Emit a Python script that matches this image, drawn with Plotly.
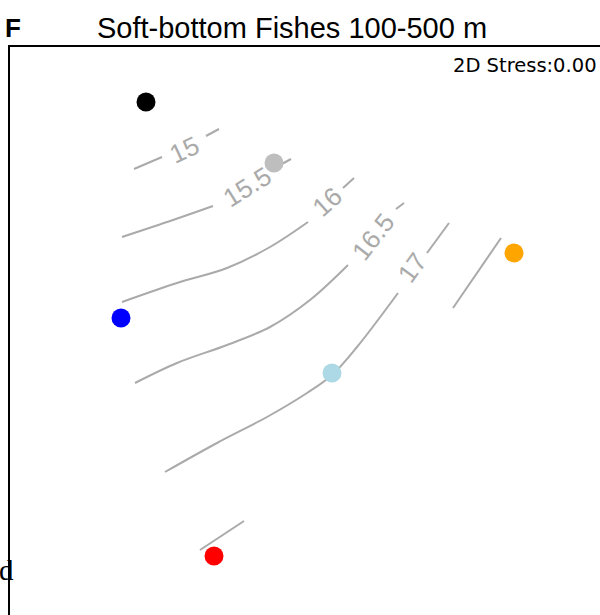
import plotly.graph_objects as go

# NMDS ordination points (arbitrary units)
group_names = ["g1", "g2", "g3", "g4", "g5", "g6"]
point_x = [136, 264, 111, 322, 504, 204]
point_y = [513, 452, 297, 242, 362, 59]
point_colors = ["black", "#bebebe", "blue", "#add8e6", "orange", "red"]

# Contour (surface overlay) line segments
contour_segments = [
    ([124, 152], [446, 458]),
    ([196, 209], [479, 486]),
    ([112, 163, 203], [378, 395, 409]),
    ([270, 281], [450, 456]),
    ([112, 167, 217, 260, 298], [313, 332, 347, 368, 393]),
    ([333, 344], [427, 437]),
    ([125, 167, 217, 260, 300, 338], [232, 252, 270, 288, 315, 350]),
    ([386, 394], [406, 412]),
    ([155, 207, 257, 297, 322, 347, 388], [143, 172, 198, 222, 240, 268, 322]),
    ([417, 439], [362, 392]),
    ([443, 491], [307, 377]),
    ([190, 234], [65, 94]),
]

# Contour labels
contour_labels = ["15", "15.5", "16", "16.5", "17"]
label_x = [174, 237, 317, 363, 402]
label_y = [465, 428, 413, 378, 347]
label_angle = [-25, -32, -42, -52, -54]

fig = go.Figure()
for xs, ys in contour_segments:
    fig.add_trace(go.Scatter(x=xs, y=ys, mode="lines",
                             line=dict(color="#aaaaaa", width=2, shape="spline", smoothing=1),
                             hoverinfo="skip", showlegend=False))

fig.add_trace(go.Scatter(x=point_x, y=point_y, mode="markers", text=group_names,
                         marker=dict(color=point_colors, size=19, line=dict(width=0)),
                         showlegend=False))

for t, x, y, a in zip(contour_labels, label_x, label_y, label_angle):
    fig.add_annotation(x=x, y=y, text=t, textangle=a, showarrow=False,
                       font=dict(family="Liberation Sans, Arial", size=26, color="#aaaaaa"))

fig.add_annotation(xref="paper", yref="paper", x=1.0, y=1.0, xanchor="right", yanchor="top",
                   xshift=-1, yshift=-5, text="2D Stress:0.00", showarrow=False,
                   font=dict(family="DejaVu Sans", size=19.5, color="black"))

fig.add_annotation(xref="paper", yref="paper", x=0.5, y=1.0, xanchor="center", yanchor="bottom",
                   xshift=-13, yshift=1, text="Soft-bottom Fishes 100-500 m", showarrow=False,
                   font=dict(family="Liberation Sans, Arial", size=29, color="black"))

fig.add_annotation(xref="paper", yref="paper", x=0, y=1.0, xanchor="left", yanchor="bottom",
                   xshift=-7, yshift=2, text="<b>F</b>", showarrow=False,
                   font=dict(family="Liberation Sans, Arial", size=26, color="black"))

fig.add_annotation(xref="paper", yref="paper", x=0, y=0, xanchor="right", yanchor="bottom",
                   xshift=6, yshift=27, text="d", showarrow=False,
                   font=dict(family="Liberation Serif, DejaVu Serif", size=29, color="black"))

fig.update_layout(
    width=600, height=615,
    margin=dict(l=10, r=0, t=47, b=0),
    plot_bgcolor="white", paper_bgcolor="white",
    xaxis=dict(range=[0, 590], showgrid=False, zeroline=False, showticklabels=False,
               ticks="", showline=True, side="top", linecolor="black", linewidth=2),
    yaxis=dict(range=[0, 568], showgrid=False, zeroline=False, showticklabels=False,
               ticks="", showline=True, linecolor="black", linewidth=2),
)

fig.write_html("out.html")
